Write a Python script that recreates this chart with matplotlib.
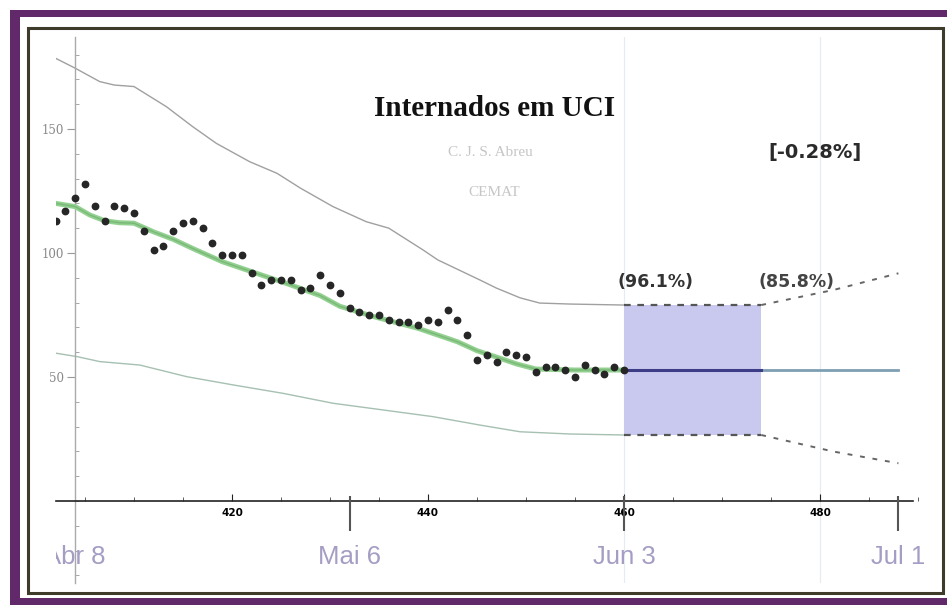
import matplotlib
matplotlib.use("Agg")
import matplotlib.pyplot as plt
from matplotlib.patches import Rectangle
from matplotlib.ticker import MultipleLocator, FixedLocator

# ---- data -------------------------------------------------------------
days = list(range(402, 461))
icu = [113, 117, 122, 128, 119, 113, 119, 118, 116, 109,
       101, 103, 109, 112, 113, 110, 104, 99, 99, 99,
       92, 87, 89, 89, 89, 85, 86, 91, 87, 84,
       78, 76, 75, 75, 73, 72, 72, 71, 73, 72,
       77, 73, 67, 57, 59, 56, 60, 59, 58, 52,
       54, 54, 53, 50, 55, 53, 51, 54, 53]

fit_days = [402, 404, 405.5, 407, 408.5, 410, 412, 414, 416, 419, 422.5,
            426, 429, 431, 434.5, 439, 443, 445, 447, 449, 451, 455, 460]
fit_vals = [120, 118.7, 115.3, 113, 112.2, 112, 108.5, 105.5, 101.8, 96.5, 91.8,
            87.1, 82.8, 78.5, 74.3, 69.6, 64.2, 60.6, 58, 55.3, 53.2, 52.8, 52.8]

upper_days = [402, 404, 406.5, 408, 410, 413.3, 416, 418.4, 421.8, 424.6, 427,
              430.3, 433.7, 436, 439.5, 441, 445.3, 447, 449.4, 451.4, 454.5, 460]
upper_vals = [178.5, 174.5, 169.1, 167.7, 167.1, 159.0, 150.9, 144.2, 136.8, 132.1, 126.1,
              118.7, 112.6, 110.0, 101.2, 97.2, 89.1, 85.8, 81.9, 79.8, 79.4, 79.0]

lower_days = [402, 404.2, 406.5, 410.6, 415.4, 420.1, 425.2, 430.3, 435.4,
              440.5, 445.3, 449.4, 454.5, 460]
lower_vals = [59.6, 58.2, 56.2, 54.8, 50.1, 46.8, 43.4, 39.4, 36.7,
              34.0, 30.6, 27.9, 27.0, 26.6]

forecast_days = [460, 488]
forecast_level = [52.8, 52.8]

box_days = [460, 474]
band_days = [460, 474, 481.4, 488]
band_hi = [79.0, 79.0, 85.1, 91.8]
band_lo = [26.6, 26.6, 19.9, 15.2]

date_ticks = [404, 432, 460, 488]
date_labels = ["Abr 8", "Mai 6", "Jun 3", "Jul 1"]

title = "Internados em UCI"
author = "C. J. S. Abreu"
affil = "CEMAT"
conf_box = "(96.1%)"
conf_band = "(85.8%)"
trend = "[-0.28%]"

# ---- figure and frame ---------------------------------------------------
W, H = 947, 605
fig = plt.figure(figsize=(W / 100, H / 100), dpi=100)
fig.patch.set_facecolor("white")


def px_rect(x0, y0, x1, y1, **kw):
    r = Rectangle((x0 / W, 1 - y1 / H), (x1 - x0) / W, (y1 - y0) / H,
                  transform=fig.transFigure, **kw)
    fig.add_artist(r)
    return r


# purple mat and inner framing line
px_rect(10, 10, 1000, 640, facecolor="#62296a", edgecolor="none", zorder=0)
px_rect(20, 17, 1000, 598, facecolor="white", edgecolor="none", zorder=0)
px_rect(27.5, 27.5, 943, 593, facecolor="white", edgecolor="#3f3b2a",
        linewidth=2.2, zorder=0)

# ---- axes ---------------------------------------------------------------
xmin, xmax = 402, 490.5
ymin, ymax = -33, 187
left_px, right_px = 55.6, 922.9
top_px, bot_px = 37.2, 582.8
ax = fig.add_axes([left_px / W, 1 - bot_px / H,
                   (right_px - left_px) / W, (bot_px - top_px) / H])
ax.set_xlim(xmin, xmax)
ax.set_ylim(ymin, ymax)
ax.patch.set_alpha(0)

for s in ("top", "right"):
    ax.spines[s].set_visible(False)
ax.spines["left"].set_position(("data", 404))
ax.spines["left"].set_color("#aaaaaa")
ax.spines["left"].set_linewidth(1.0)
ax.spines["bottom"].set_position(("data", 0))
ax.spines["bottom"].set_color("#222222")
ax.spines["bottom"].set_linewidth(1.2)
ax.spines["bottom"].set_bounds(xmin, 489.5)

ax.yaxis.set_major_locator(FixedLocator([50, 100, 150]))
ax.yaxis.set_minor_locator(MultipleLocator(10))
ax.tick_params(axis="y", which="major", direction="out", length=6,
               color="#999999", labelsize=8.5, labelcolor="#888888", pad=2)
ax.tick_params(axis="y", which="minor", direction="in", length=3,
               color="#999999")
for lab in ax.get_yticklabels():
    lab.set_family("DejaVu Serif")

ax.xaxis.set_major_locator(FixedLocator([420, 440, 460, 480]))
ax.xaxis.set_minor_locator(MultipleLocator(5))
ax.tick_params(axis="x", which="major", direction="in", length=5,
               color="#222222", labelsize=7.5, pad=5)
ax.tick_params(axis="x", which="minor", direction="in", length=3,
               color="#444444")
for lab in ax.get_xticklabels():
    lab.set_fontweight("bold")

# faint vertical guides
for gx in (460, 480):
    ax.axvline(gx, color="#e6eaf2", lw=0.8, zorder=0)

# ---- data layers ----------------------------------------------------------
ax.plot(upper_days, upper_vals, color="#a0a0a0", lw=1.0, zorder=2)
ax.plot(lower_days, lower_vals, color="#a6c0b2", lw=1.0, zorder=2)

ax.fill_between(box_days, band_lo[0], band_hi[0], color="#c9c9ef",
                linewidth=0, zorder=1)

ax.plot(fit_days, fit_vals, color="#92d08f", lw=3.6, solid_capstyle="round",
        zorder=3)
ax.plot(fit_days, fit_vals, color="#6aa86a", lw=1.0, alpha=0.6, zorder=3)

ax.plot(forecast_days, forecast_level, color="#7d9fb2", lw=2.0, zorder=3)
ax.plot(box_days, forecast_level, color="#3d3c86", lw=2.2, zorder=4)

ax.plot(band_days[:2], band_hi[:2], color="#555555", lw=1.6,
        dashes=(3, 3), zorder=4)
ax.plot(band_days[:2], band_lo[:2], color="#555555", lw=1.6,
        dashes=(3, 3), zorder=4)
ax.plot(band_days[1:], band_hi[1:], color="#666666", lw=1.4,
        dashes=(2.5, 4), zorder=4)
ax.plot(band_days[1:], band_lo[1:], color="#666666", lw=1.4,
        dashes=(2.5, 4), zorder=4)

ax.plot(days, icu, "o", color="#262626", markersize=4.6, zorder=5)

# ---- date axis below ------------------------------------------------------
ax.vlines(date_ticks[1:], -12, 2, color="#555555", lw=1.5, zorder=4)
for d, lab in zip(date_ticks, date_labels):
    ax.text(d, -22.5, lab, ha="center", va="center", fontsize=18.5,
            family="Liberation Sans", color="#a59dc4",
            clip_on=(d == date_ticks[0]))

# ---- annotations ----------------------------------------------------------
ax.text(463.2, 88.3, conf_box, ha="center", va="center", fontsize=12.5,
        fontweight="bold", color="#333333")
ax.text(477.6, 88.3, conf_band, ha="center", va="center", fontsize=12.5,
        fontweight="bold", color="#444444")
ax.text(479.5, 140.7, trend, ha="center", va="center", fontsize=14,
        fontweight="bold", color="#2a2a2a")

fig.text(495 / W, 1 - 116 / H, title, ha="center", va="baseline",
         fontsize=21, fontweight="bold", family="Liberation Serif",
         color="#111111")
fig.text(490 / W, 1 - 152 / H, author, ha="center", va="center",
         fontsize=11, family="Liberation Serif", color="#c6c6c6")
fig.text(494 / W, 1 - 192 / H, affil, ha="center", va="center",
         fontsize=11, family="Liberation Serif", color="#c6c6c6")

fig.savefig("out.png", dpi=100)
